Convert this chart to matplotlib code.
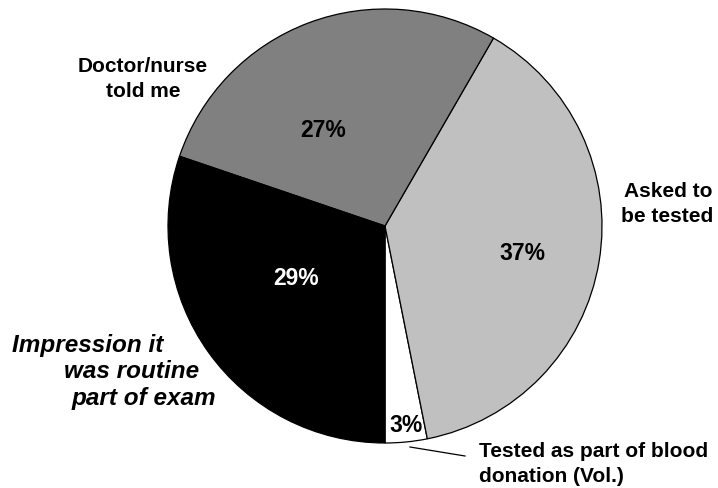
import matplotlib
matplotlib.use("Agg")
import matplotlib.pyplot as plt

plt.rcParams['font.family'] = ['Liberation Sans', 'DejaVu Sans']

# slices, counter-clockwise from the bottom
names = ["Tested as part of blood donation (Vol.)", "Asked to be tested",
         "Doctor/nurse told me", "Impression it was routine part of exam"]
values = [3, 37, 27, 29]
colors = ["white", "#c0c0c0", "#808080", "black"]
pct_colors = ["black", "black", "black", "white"]

W, H = 718, 489
fig = plt.figure(figsize=(W / 100, H / 100), dpi=100)
ax = fig.add_axes([0, 0, 1, 1])


def py(y):
    # pixel row (from top) -> axes y
    return H - y


ax.pie(values, colors=colors, startangle=-90, counterclock=True,
       center=(385, py(227)), radius=217, frame=True,
       wedgeprops=dict(edgecolor="black", linewidth=0.9))
ax.set_xlim(0, W)
ax.set_ylim(0, H)
ax.set_aspect("equal")
ax.axis("off")

# percentage labels (x, baseline y in pixels)
pct_pos = [(406, 432), (522, 260), (323, 137), (296, 285)]
for v, (x, y), c in zip(values, pct_pos, pct_colors):
    ax.text(x, py(y), f"{v}%", ha="center", va="baseline",
            fontsize=16.5, fontweight="bold", color=c)

bold = dict(fontsize=15, fontweight="bold", va="baseline", zorder=5)

ax.text(143, py(72), "Doctor/nurse", ha="center", **bold)
ax.text(143, py(97), "told me", ha="center", **bold)

ax.text(713, py(197), "Asked to", ha="right", **bold)
ax.text(713, py(222), "be tested", ha="right", **bold)

ax.text(479, py(457), "Tested as part of blood", ha="left", **bold)
ax.text(479, py(482), "donation (Vol.)", ha="left", **bold)
ax.plot([410, 465], [py(448), py(457)], color="black", lw=0.9)

ital = dict(fontsize=17.5, fontweight="bold", fontstyle="italic",
            va="baseline", zorder=5)
ax.text(12, py(352), "Impression it", ha="left", **ital)
ax.text(199, py(378), "was routine", ha="right", **ital)
ax.text(216, py(405), "part of exam", ha="right", **ital)

fig.savefig("out.png", dpi=100)
